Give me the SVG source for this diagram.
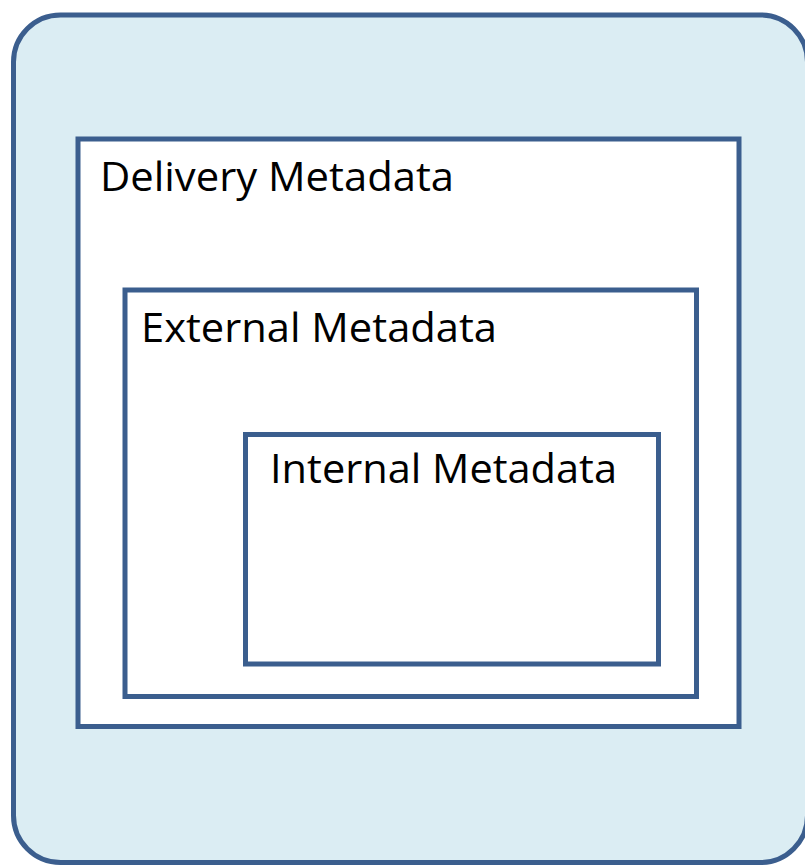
<svg xmlns="http://www.w3.org/2000/svg" width="805" height="865" viewBox="0 0 805 865">
  <style>
    .frame { fill: #DBEDF3; stroke: #3B5E8E; stroke-width: 5; }
    .box { fill: #FFFFFF; stroke: #3B5E8E; stroke-width: 5; }
    .label { font-family: "Open Sans", "Liberation Sans", sans-serif; font-size: 40px; fill: #000000; }
  </style>
  <!-- outer container -->
  <g id="container">
    <rect class="frame" x="13.5" y="15" width="794" height="847.5" rx="47" ry="47"/>
  </g>
  <g id="delivery">
    <rect class="box" x="78" y="139" width="661" height="587.5"/>
    <text class="label" x="100" y="191" textLength="354" lengthAdjust="spacingAndGlyphs">Delivery Metadata</text>
  </g>
  <g id="external">
    <rect class="box" x="125" y="290" width="571.5" height="406.5"/>
    <text class="label" x="141" y="341.5" textLength="356" lengthAdjust="spacingAndGlyphs">External Metadata</text>
  </g>
  <g id="internal">
    <rect class="box" x="245.5" y="434.5" width="413" height="229.5"/>
    <text class="label" x="270" y="483" textLength="347" lengthAdjust="spacingAndGlyphs">Internal Metadata</text>
  </g>
  <g id="connectors"/>
</svg>
